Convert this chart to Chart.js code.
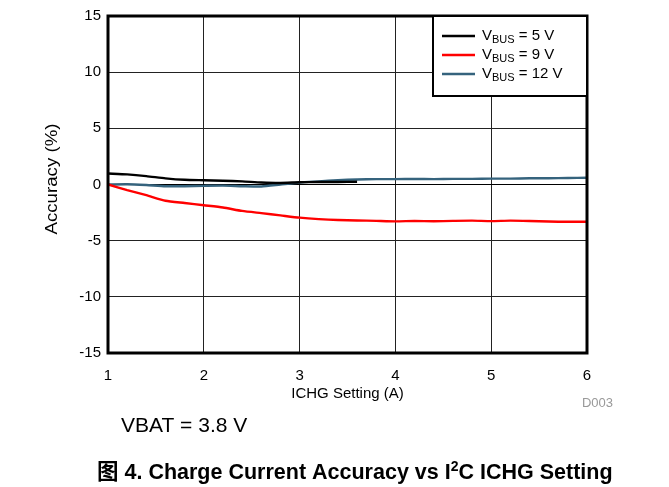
<!DOCTYPE html>
<html>
<head>
<meta charset="utf-8">
<script src="https://cdn.jsdelivr.net/npm/chart.js@4/dist/chart.umd.min.js"></script>
<style>
html, body { margin: 0; padding: 0; background: #fff; }
#wrap { width: 669px; height: 487px; }
</style>
</head>
<body>
<div id="wrap"><canvas id="accChart" width="669" height="487"></canvas></div>
<script>
// ICHG setting (A) and charge current accuracy (%) for each VBUS
var ichg   = [1.0, 1.2, 1.4, 1.6, 1.8, 2.0, 2.2, 2.4, 2.6, 2.8, 3.0, 3.2, 3.4, 3.6, 3.8, 4.0, 4.2, 4.4, 4.6, 4.8, 5.0, 5.2, 5.4, 5.6, 5.8, 6.0];
var acc5V  = [0.98, 0.9, 0.75, 0.55, 0.42, 0.38, 0.34, 0.28, 0.18, 0.14, 0.2, 0.22, 0.22, 0.24, null, null, null, null, null, null, null, null, null, null, null, null];
var acc9V  = [0.0, -0.5, -0.95, -1.45, -1.65, -1.85, -2.05, -2.35, -2.55, -2.75, -2.95, -3.08, -3.16, -3.2, -3.24, -3.28, -3.25, -3.27, -3.24, -3.22, -3.26, -3.22, -3.25, -3.3, -3.32, -3.32];
var acc12V = [0.0, 0.02, -0.05, -0.15, -0.15, -0.12, -0.1, -0.15, -0.18, 0.0, 0.18, 0.28, 0.38, 0.45, 0.48, 0.48, 0.5, 0.48, 0.5, 0.5, 0.52, 0.52, 0.55, 0.55, 0.58, 0.6];
var busVolts = [5, 9, 12];
var xTicks = [1, 2, 3, 4, 5, 6];
var yTicks = [-15, -10, -5, 0, 5, 10, 15];
var lineColors = ['#000000', '#ff0000', '#35637d'];

var FONT = "'Liberation Sans', Arial, sans-serif";

function toPoints(ys) {
    return ichg.map(function(x, i) { return { x: x, y: ys[i] }; });
}

var seriesValues = [acc5V, acc9V, acc12V];
var datasets = seriesValues.map(function(ys, i) {
    return {
        label: 'VBUS = ' + busVolts[i] + ' V',
        data: toPoints(ys),
        borderColor: lineColors[i],
        borderWidth: 2.4,
        pointRadius: 0,
        tension: 0.2,
        fill: false,
        spanGaps: false
    };
});

// frame, legend box and the loose texts around the plot
var decorPlugin = {
    id: 'decor',
    afterDatasetsDraw: function(chart) {
        var ctx = chart.ctx;
        var ca = chart.chartArea;
        ctx.save();
        ctx.strokeStyle = '#000';
        ctx.lineWidth = 3;
        ctx.strokeRect(ca.left, ca.top, ca.right - ca.left, ca.bottom - ca.top);

        // legend
        var bx = 433, by = ca.top, bw = ca.right - bx, bh = 80;
        ctx.fillStyle = '#fff';
        ctx.fillRect(bx, by, bw, bh);
        ctx.lineWidth = 2;
        ctx.strokeRect(bx, by, bw, bh);
        busVolts.forEach(function(v, i) {
            var ly = by + 20 + i * 19;
            ctx.strokeStyle = lineColors[i];
            ctx.lineWidth = 2.4;
            ctx.beginPath();
            ctx.moveTo(bx + 9, ly);
            ctx.lineTo(bx + 42, ly);
            ctx.stroke();
            ctx.fillStyle = '#000';
            ctx.textBaseline = 'middle';
            ctx.textAlign = 'left';
            var tx = bx + 49;
            ctx.font = '15px ' + FONT;
            ctx.fillText('V', tx, ly);
            tx += ctx.measureText('V').width;
            ctx.font = '11px ' + FONT;
            ctx.fillText('BUS', tx, ly + 4);
            tx += ctx.measureText('BUS').width;
            ctx.font = '15px ' + FONT;
            ctx.fillText(' = ' + v + ' V', tx, ly);
        });

        // axis titles
        ctx.fillStyle = '#000';
        ctx.font = '15px ' + FONT;
        ctx.textAlign = 'center';
        ctx.textBaseline = 'middle';
        ctx.fillText('ICHG Setting (A)', (ca.left + ca.right) / 2, 394);
        ctx.save();
        ctx.translate(52, 179);
        ctx.rotate(-Math.PI / 2);
        ctx.scale(1.1, 1);
        ctx.font = '17px ' + FONT;
        ctx.fillText('Accuracy (%)', 0, 0);
        ctx.restore();

        ctx.fillStyle = '#999';
        ctx.font = '13px ' + FONT;
        ctx.textAlign = 'right';
        ctx.fillText('D003', 613, 403);

        ctx.fillStyle = '#000';
        ctx.font = '21px ' + FONT;
        ctx.textAlign = 'left';
        ctx.fillText('VBAT = 3.8 V', 121, 426);

        // caption
        var cy = 473;
        var cx = 97;
        ctx.font = "bold 21.5px 'Liberation Sans', Arial, 'Noto Sans CJK SC', sans-serif";
        var part1 = '图 4. Charge Current Accuracy vs I';
        ctx.fillText(part1, cx, cy);
        cx += ctx.measureText(part1).width;
        ctx.font = "bold 14px " + FONT;
        ctx.fillText('2', cx, cy - 6);
        cx += ctx.measureText('2').width;
        ctx.font = "bold 21.5px " + FONT;
        ctx.fillText('C ICHG Setting', cx, cy);
        ctx.restore();
    }
};

var ctx1 = document.getElementById('accChart').getContext('2d');
var accChart = new Chart(ctx1, {
    type: 'line',
    data: { datasets: datasets },
    options: {
        responsive: false,
        animation: false,
        layout: { padding: { left: 0, right: 82, top: 15, bottom: 0 } },
        plugins: {
            legend: { display: false },
            tooltip: { enabled: false }
        },
        scales: {
            x: {
                type: 'linear',
                min: 1,
                max: 6,
                afterBuildTicks: function(scale) {
                    scale.ticks = xTicks.map(function(v) { return { value: v }; });
                },
                afterFit: function(scale) { scale.height = 134; },
                grid: { color: '#222', lineWidth: 1, drawTicks: false },
                border: { display: false },
                ticks: { color: '#000', font: { family: FONT, size: 15 }, padding: 14, maxRotation: 0 }
            },
            y: {
                min: -15,
                max: 15,
                afterBuildTicks: function(scale) {
                    scale.ticks = yTicks.map(function(v) { return { value: v }; });
                },
                afterFit: function(scale) { scale.width = 108; },
                grid: {
                    color: function(c) { return c.tick && c.tick.value === 0 ? '#000' : '#222'; },
                    lineWidth: 1,
                    drawTicks: false
                },
                border: { display: false },
                ticks: { color: '#000', font: { family: FONT, size: 15 }, padding: 7 }
            }
        }
    },
    plugins: [decorPlugin]
});
</script>
</body>
</html>
